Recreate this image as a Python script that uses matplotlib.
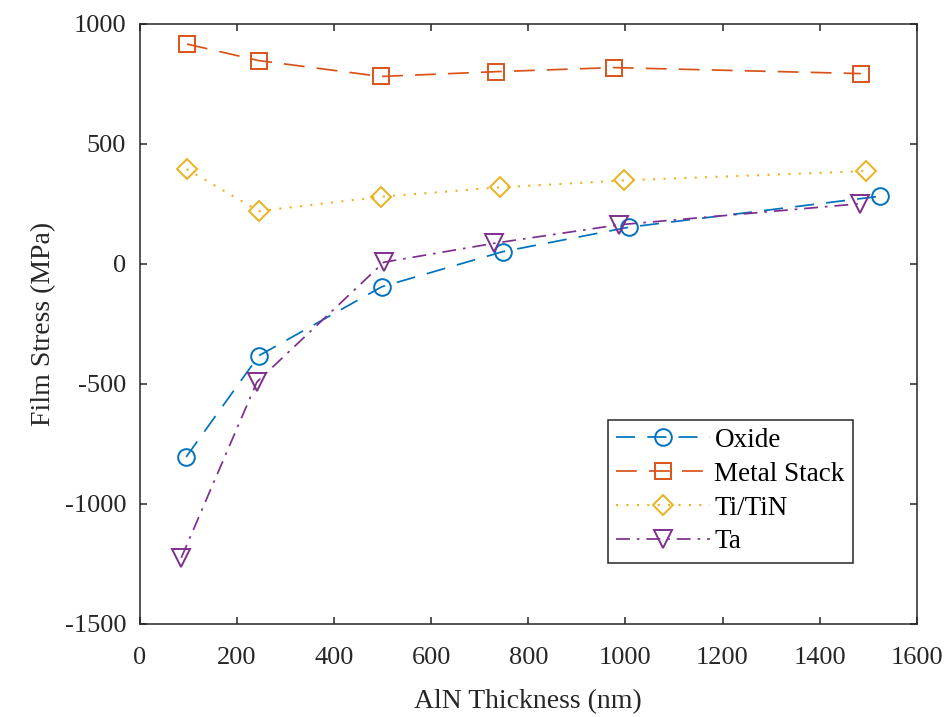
import matplotlib
matplotlib.use('Agg')
import matplotlib.pyplot as plt

plt.rcParams.update({
    'font.family': 'serif',
    'font.serif': ['Liberation Serif', 'DejaVu Serif'],
    'font.size': 19,
    'axes.unicode_minus': False,
    'axes.linewidth': 1.1,
    'axes.edgecolor': '#262626',
    'xtick.direction': 'in',
    'ytick.direction': 'in',
    'xtick.top': True,
    'ytick.right': True,
    'xtick.major.size': 5,
    'ytick.major.size': 5,
    'xtick.major.width': 1.1,
    'ytick.major.width': 1.1,
})

# AlN thickness (nm) and film stress (MPa) per film
oxide_x = [95, 245, 498, 747, 1007, 1524]
oxide_y = [-805, -383, -96, 50, 152, 281]

metal_x = [97, 245, 496, 733, 976, 1485]
metal_y = [915, 846, 780, 800, 817, 792]

titin_x = [96, 245, 496, 741, 997, 1496]
titin_y = [394, 219, 279, 318, 347, 386]

ta_x = [85, 241, 502, 729, 986, 1483]
ta_y = [-1225, -492, 6, 85, 162, 250]

xticks = [0, 200, 400, 600, 800, 1000, 1200, 1400, 1600]
yticks = [-1500, -1000, -500, 0, 500, 1000]

fig = plt.figure(figsize=(9.46, 7.17), dpi=100)
ax = fig.add_axes([0.148, 0.130, 0.821, 0.837])

lw = 1.25
ms = 12
ax.plot(oxide_x, oxide_y, color='#0072BD', linestyle=(0, (11, 7)), lw=lw,
        marker='o', ms=ms, mfc='none', mew=1.4, label='Oxide')
ax.plot(metal_x, metal_y, color='#D95319', linestyle=(0, (12, 7)), lw=lw,
        marker='s', ms=ms - 1, mfc='none', mew=1.4, label='Metal Stack')
ax.plot(titin_x, titin_y, color='#EDB120', linestyle=(0, (1, 4)), lw=lw * 1.2,
        marker='D', ms=ms - 2, mfc='none', mew=1.4, label='Ti/TiN')
ax.plot(ta_x, ta_y, color='#7E2F8E', linestyle=(0, (8, 4, 1.5, 4)), lw=lw,
        marker='v', ms=ms + 1, mfc='none', mew=1.4, label='Ta')

ax.set_xlim(0, 1600)
ax.set_ylim(-1500, 1000)
ax.set_xticks(xticks)
ax.set_yticks(yticks)
ax.tick_params(axis='both', colors='#262626', labelsize=19)
ax.tick_params(axis='x', pad=17)
ax.tick_params(axis='y', pad=10)
ax.set_xlabel('AlN Thickness (nm)', fontsize=20, color='#262626', labelpad=14)
ax.set_ylabel('Film Stress (MPa)', fontsize=20, color='#262626', labelpad=6)

leg = ax.legend(loc='lower right', bbox_to_anchor=(0.918, 0.102), fontsize=19.5,
                handlelength=3.5, handletextpad=0.15, borderpad=0.3,
                borderaxespad=0, labelspacing=0.33, fancybox=False,
                framealpha=1, edgecolor='#262626')
leg.get_frame().set_linewidth(1.1)

fig.savefig('out.png', dpi=100)
